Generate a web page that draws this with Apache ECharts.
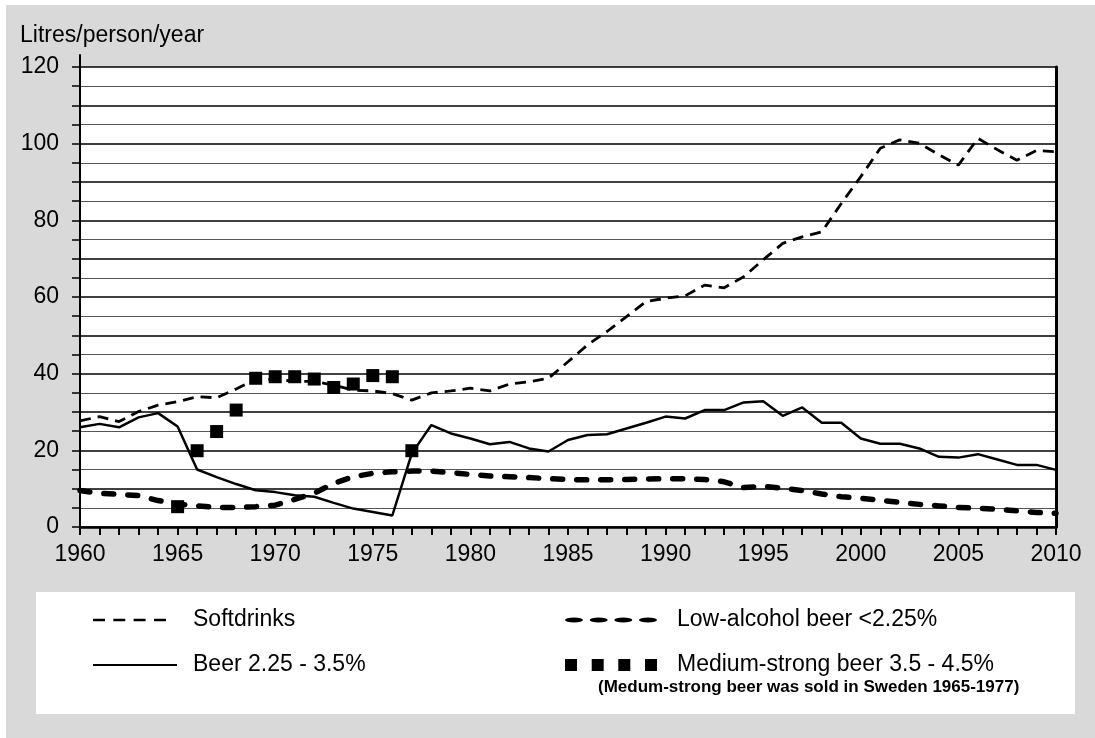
<!DOCTYPE html>
<html>
<head>
<meta charset="utf-8">
<script src="https://cdn.jsdelivr.net/npm/echarts@6/dist/echarts.min.js"></script>
<style>
  html, body { margin: 0; padding: 0; background: #fff; }
  #content { width: 1095px; height: 738px; }
</style>
</head>
<body>
<div id="content"></div>
<script>
// years on the x axis
let years = [];
for (let y = 1960; y <= 2010; y++) years.push(String(y));

// litres/person/year
let softdrinks = [
  27.7, 28.8, 27.5, 30.1, 31.8, 32.7, 34.0, 33.7, 36.0, 38.5,
  38.5, 38.0, 38.0, 37.0, 35.7, 35.5, 34.8, 33.1, 35.0, 35.5,
  36.2, 35.5, 37.3, 37.9, 38.8, 43.1, 47.5, 51.0, 54.9, 58.8,
  59.7, 60.3, 63.1, 62.4, 65.3, 69.7, 74.0, 75.7, 77.0, 84.4,
  91.4, 98.8, 101.0, 100.1, 97.1, 94.4, 101.4, 98.4, 95.7, 98.2, 97.9
];
let beer = [
  26.0, 26.9, 26.0, 28.6, 29.7, 26.2, 15.0, 13.0, 11.2, 9.6,
  9.1, 8.3, 7.9, 6.3, 4.8, 3.9, 3.0, 19.2, 26.6, 24.4,
  23.1, 21.6, 22.2, 20.5, 19.7, 22.7, 24.0, 24.2, 25.7, 27.2,
  28.8, 28.3, 30.5, 30.5, 32.5, 32.8, 29.0, 31.2, 27.2, 27.2,
  23.1, 21.7, 21.7, 20.5, 18.3, 18.1, 19.0, 17.6, 16.2, 16.2, 14.9
];
let lowAlcohol = [
  9.5, 8.8, 8.5, 8.2, 6.9, 6.0, 5.5, 5.1, 5.1, 5.3,
  5.7, 7.2, 8.8, 11.4, 13.1, 14.0, 14.4, 14.6, 14.6, 14.2,
  13.7, 13.3, 13.1, 12.9, 12.6, 12.4, 12.3, 12.3, 12.4, 12.5,
  12.6, 12.6, 12.4, 11.8, 10.3, 10.6, 10.1, 9.5, 8.6, 7.9,
  7.5, 7.0, 6.4, 5.9, 5.5, 5.1, 4.9, 4.6, 4.2, 3.8, 3.6
];
let mediumYears = ["1965", "1966", "1967", "1968", "1969", "1970", "1971",
  "1972", "1973", "1974", "1975", "1976", "1977"];
let mediumValues = [5.3, 19.9, 24.9, 30.5, 38.8, 39.2, 39.2, 38.6, 36.4, 37.3, 39.5, 39.2, 19.9];

let names = [
  "Softdrinks",
  "Beer 2.25 - 3.5%",
  "Low-alcohol beer <2.25%",
  "Medium-strong beer 3.5 - 4.5%"
];

const FONT = "'Liberation Sans', Arial, sans-serif";

let myChart = echarts.init(document.getElementById("content"));

let legendText = (pad) => ({
  color: "#000",
  fontSize: 23,
  fontFamily: FONT,
  lineHeight: 26,
  padding: [0, 0, 0, pad],
});

myChart.setOption({
  animation: false,
  backgroundColor: "#fff",
  title: {
    text: "Litres/person/year",
    left: 20,
    top: 24,
    padding: 0,
    textStyle: { fontSize: 23, fontWeight: "normal", color: "#000", fontFamily: FONT },
  },
  graphic: [
    { type: "rect", z: -100, shape: { x: 6, y: 5, width: 1089, height: 733 }, style: { fill: "#d9d9d9" } },
    { type: "rect", z: -50, shape: { x: 36, y: 592, width: 1039, height: 122 }, style: { fill: "#fff" } },
    {
      type: "text",
      left: 598,
      top: 679,
      style: {
        text: "(Medum-strong beer was sold in Sweden 1965-1977)",
        fill: "#000",
        font: "bold 17px " + FONT,
      },
    },
  ],
  legend: [
    {
      data: [{ name: names[0], icon: "path://M0,0h12v2.5h-12z M20.3,0h12v2.5h-12z M40.6,0h12v2.5h-12z M61,0h12v2.5h-12z" }],
      left: 93, top: 607, itemWidth: 73, itemHeight: 2.5,
      selectedMode: false, itemStyle: { color: "#000", borderWidth: 0 },
      textStyle: legendText(22), padding: 0,
    },
    {
      data: [{ name: names[1], icon: "path://M0,0h84v2.2h-84z" }],
      left: 93, top: 652, itemWidth: 84, itemHeight: 2.2,
      selectedMode: false, itemStyle: { color: "#000", borderWidth: 0 },
      textStyle: legendText(11), padding: 0,
    },
    {
      data: [{
        name: names[2],
        icon: "path://M0,2.5a9,2.5 0 1 0 18,0a9,2.5 0 1 0 -18,0z M24.7,2.5a9,2.5 0 1 0 18,0a9,2.5 0 1 0 -18,0z M49.3,2.5a9,2.5 0 1 0 18,0a9,2.5 0 1 0 -18,0z M74,2.5a9,2.5 0 1 0 18,0a9,2.5 0 1 0 -18,0z",
      }],
      left: 565, top: 607, itemWidth: 92, itemHeight: 5,
      selectedMode: false, itemStyle: { color: "#000", borderWidth: 0 },
      textStyle: legendText(15), padding: 0,
    },
    {
      data: [{ name: names[3], icon: "path://M0,0h12v12h-12z M26.7,0h12v12h-12z M53.3,0h12v12h-12z M80,0h12v12h-12z" }],
      left: 565, top: 652, itemWidth: 92, itemHeight: 12,
      selectedMode: false, itemStyle: { color: "#000", borderWidth: 0 },
      textStyle: legendText(15), padding: 0,
    },
  ],
  grid: [
    { left: 80, right: 39, top: 67, bottom: 211, show: true, backgroundColor: "#fff", borderWidth: 0 },
    { left: 80, right: 39, top: 55, height: 12, show: false },
  ],
  xAxis: [
    {
      type: "category",
      data: years,
      boundaryGap: false,
      axisLine: { lineStyle: { color: "#000", width: 2.5 } },
      axisTick: { show: true, interval: 0, length: 8, lineStyle: { color: "#000", width: 2 } },
      axisLabel: {
        interval: 4,
        margin: 16,
        color: "#000",
        fontSize: 23,
        fontFamily: FONT,
      },
      splitLine: { show: false },
    },
    { type: "value", gridIndex: 1, show: false, min: 0, max: 1 },
  ],
  yAxis: [
    {
      type: "value",
      min: 0,
      max: 120,
      interval: 10,
      axisLine: { show: true, lineStyle: { color: "#000", width: 2 } },
      axisTick: { show: true, length: 8, lineStyle: { color: "#000", width: 1.5 } },
      minorTick: { show: true, splitNumber: 2, length: 8, lineStyle: { color: "#000", width: 1.5 } },
      axisLabel: {
        margin: 21,
        color: "#000",
        fontSize: 23,
        fontFamily: FONT,
        formatter: (v) => (v % 20 === 0 ? String(v) : ""),
      },
      splitLine: { show: true, lineStyle: { color: "#000", width: 1.5 } },
      minorSplitLine: { show: true, lineStyle: { color: "#555", width: 1 } },
    },
    {
      type: "value",
      position: "right",
      min: 0,
      max: 120,
      axisLine: { show: true, lineStyle: { color: "#000", width: 3 } },
      axisTick: { show: false },
      axisLabel: { show: false },
      splitLine: { show: false },
    },
    {
      type: "value",
      gridIndex: 1,
      min: 0,
      max: 1,
      axisLine: { show: true, lineStyle: { color: "#000", width: 2 } },
      axisTick: { show: false },
      axisLabel: { show: false },
      splitLine: { show: false },
    },
  ],
  series: [
    {
      name: names[2],
      type: "line",
      data: lowAlcohol,
      symbol: "none",
      itemStyle: { color: "#000" },
      lineStyle: { color: "#000", width: 5.5, type: [10, 14], cap: "round" },
      emphasis: { disabled: true },
    },
    {
      name: names[0],
      type: "line",
      data: softdrinks,
      symbol: "none",
      itemStyle: { color: "#000" },
      lineStyle: { color: "#000", width: 2.8, type: [11, 7] },
      emphasis: { disabled: true },
    },
    {
      name: names[1],
      type: "line",
      data: beer,
      symbol: "none",
      itemStyle: { color: "#000" },
      lineStyle: { color: "#000", width: 2.5 },
      emphasis: { disabled: true },
    },
    {
      name: names[3],
      type: "line",
      data: mediumYears.map((y, i) => [y, mediumValues[i]]),
      symbol: "rect",
      symbolSize: 13,
      showSymbol: true,
      showAllSymbol: true,
      itemStyle: { color: "#000", borderWidth: 0 },
      lineStyle: { width: 0, opacity: 0 },
      emphasis: { disabled: true },
      z: 5,
    },
  ],
});

window.addEventListener("resize", function () {
  myChart.resize();
});
</script>
</body>
</html>
